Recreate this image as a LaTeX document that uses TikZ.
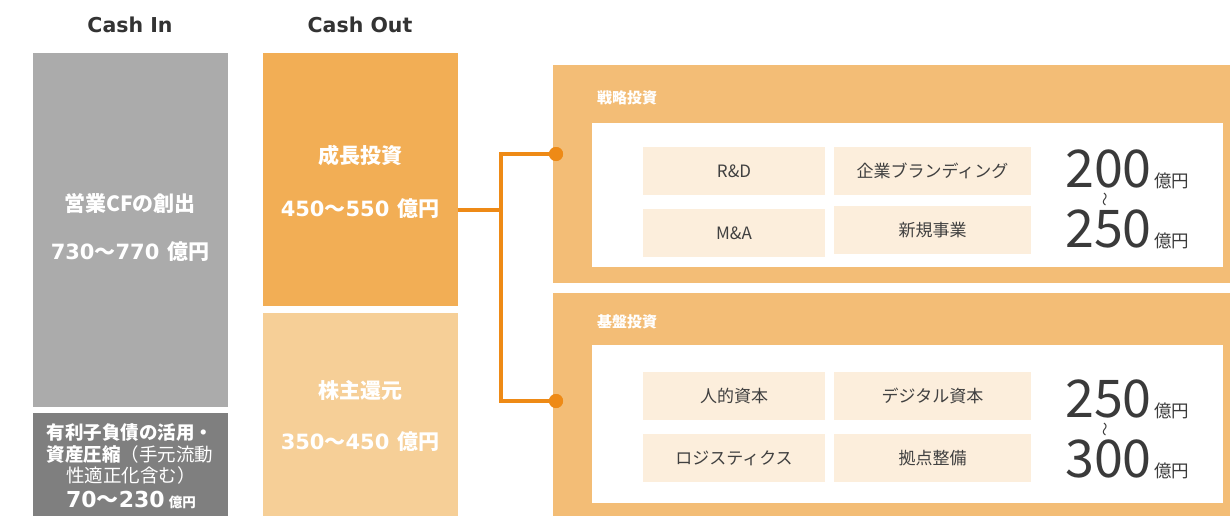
\documentclass[tikz,border=0pt]{standalone}
\usepackage{fontspec}
\setmainfont{Noto Sans CJK JP}
\newfontfamily\dv{DejaVu Sans}
\definecolor{ttlgrey}{HTML}{333333}
\definecolor{cfgrey}{HTML}{ABABAB}
\definecolor{debtgrey}{HTML}{7F7F7F}
\definecolor{grow}{HTML}{F2AE55}
\definecolor{ret}{HTML}{F6CF97}
\definecolor{panel}{HTML}{F3BD76}
\definecolor{cellfill}{HTML}{FCEEDC}
\definecolor{conn}{HTML}{EE8A16}
\definecolor{celltext}{HTML}{404040}
\definecolor{numtext}{HTML}{3A3A3A}
\newcommand\fs[2]{\fontsize{#1}{#2}\selectfont}
\newcommand\dnum[1]{{\dv\bfseries #1}}
\begin{document}
\begin{tikzpicture}[x=1pt,y=-1pt,
  box/.style={inner sep=0pt, outer sep=0pt, anchor=north west, draw=none},
  ttl/.style={font=\dv\bfseries\fs{20.5}{24}, text=ttlgrey, inner sep=0pt},
  wtxt/.style={font=\bfseries\fs{21}{25}, text=white, inner sep=0pt},
  dtxt/.style={font=\fs{18.5}{22}, text=white, inner sep=0pt},
  ptitle/.style={font=\bfseries\fs{15}{18}, text=white, inner sep=0pt, anchor=west},
  cell/.style={box, fill=cellfill, minimum height=48pt, font=\fs{17}{20}, text=celltext},
  cellA/.style={cell, minimum width=182pt},
  cellB/.style={cell, minimum width=197pt},
  bignum/.style={font=\fs{52}{56}, text=numtext, inner sep=0pt, anchor=base east},
  unit/.style={font=\fs{17.5}{20}, text=numtext, inner sep=0pt, anchor=base west},
  wave/.style={font=\fs{14}{16}, text=numtext, inner sep=0pt},
  connline/.style={draw=conn, line width=3.2pt},
  dot/.style={circle, fill=conn, inner sep=0pt, minimum size=14pt}
]
\useasboundingbox (0,0) rectangle (1230,516);
\fill[white] (0,0) rectangle (1230,516);

% titles
\node[ttl] (tin) at (130,25) {Cash In};
\node[ttl] (tout) at (360,25) {Cash Out};

% left column boxes
\node[box, fill=cfgrey, minimum width=195pt, minimum height=354pt] (cf) at (33,53) {};
\node[box, fill=debtgrey, minimum width=195pt, minimum height=103pt] (debt) at (33,413) {};
\node[box, fill=grow, minimum width=195pt, minimum height=253pt] (growth) at (263,53) {};
\node[box, fill=ret, minimum width=195pt, minimum height=203pt] (ret) at (263,313) {};

% left texts
\node[wtxt] (cft1) at (130,203) {営業CFの創出};
\node[wtxt] (cft2) at (130,252) {\dnum{730}～\dnum{770}\hspace{3pt} 億円};
\node[wtxt] (gt1) at (360,155) {成長投資};
\node[wtxt] (gt2) at (360,209) {\dnum{450}～\dnum{550}\hspace{3pt} 億円};
\node[wtxt] (rt1) at (360,390) {株主還元};
\node[wtxt] (rt2) at (360,442) {\dnum{350}～\dnum{450}\hspace{3pt} 億円};

\node[dtxt, font=\bfseries\fs{18.5}{22}] (dt1) at (130,433) {有利子負債の活用・};
\node[dtxt] (dt2) at (130,454) {\textbf{資産圧縮}（手元流動};
\node[dtxt] (dt3) at (131,475) {性適正化含む）};
\node[dtxt] (dt4) at (131,500) {{\dv\bfseries\fs{22}{25}70}{\bfseries\fs{22}{25}～}{\dv\bfseries\fs{22}{25}230} {\bfseries\fs{13.5}{15}億円}};

% panels
\node[box, fill=panel, minimum width=677pt, minimum height=218pt] (p1) at (553,65) {};
\node[box, fill=white, minimum width=631pt, minimum height=144pt] (p1in) at (592,123) {};
\node[box, fill=panel, minimum width=677pt, minimum height=223pt] (p2) at (553,293) {};
\node[box, fill=white, minimum width=631pt, minimum height=158pt] (p2in) at (592,345) {};

\node[ptitle] (p1t) at (597,98) {戦略投資};
\node[ptitle] (p2t) at (597,322) {基盤投資};

% cells panel 1
\node[cellA] (c11) at (643,147) {R\&D};
\node[cellB] (c12) at (834,147) {企業ブランディング};
\node[cellA] (c21) at (643,209) {M\&A};
\node[cellB] (c22) at (834,206) {新規事業};
% cells panel 2
\node[cellA] (d11) at (643,372) {人的資本};
\node[cellB] (d12) at (834,372) {デジタル資本};
\node[cellA] (d21) at (643,434) {ロジスティクス};
\node[cellB] (d22) at (834,434) {拠点整備};

% amounts panel 1
\node[bignum] (n1a) at (1152,187) {200};
\node[unit] (u1a) at (1154,187) {億円};
\node[wave, rotate=90] (w1) at (1107,199) {～};
\node[bignum] (n1b) at (1152,247) {250};
\node[unit] (u1b) at (1154,247) {億円};
% amounts panel 2
\node[bignum] (n2a) at (1152,417) {250};
\node[unit] (u2a) at (1154,417) {億円};
\node[wave, rotate=90] (w2) at (1107,429) {～};
\node[bignum] (n2b) at (1152,477) {300};
\node[unit] (u2b) at (1154,477) {億円};

% connectors
\coordinate (j) at (501,210);
\node[dot] (dot1) at (556,154) {};
\node[dot] (dot2) at (556,401) {};
\draw[connline] (growth.east |- j) -- (j);
\draw[connline] (j) |- (dot1.center);
\draw[connline] (j) |- (dot2.center);
\node[dot] (dot1b) at (dot1) {};
\node[dot] (dot2b) at (dot2) {};
\end{tikzpicture}
\end{document}
